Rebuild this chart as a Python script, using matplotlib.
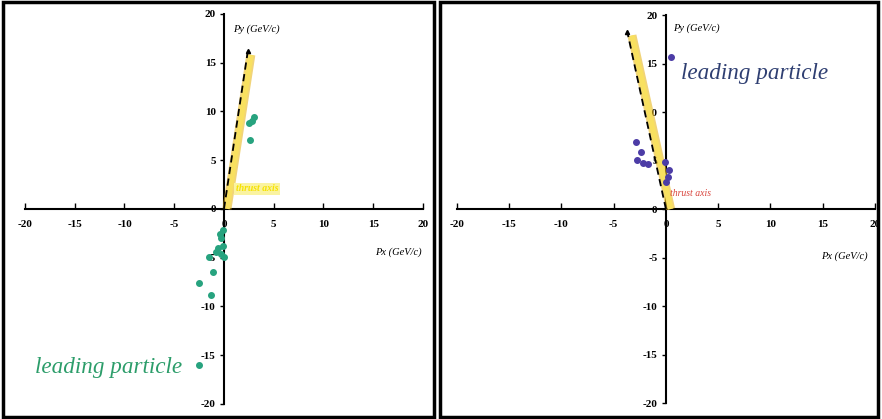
import matplotlib as mpl
mpl.use("Agg")
import matplotlib.pyplot as plt
from matplotlib.patches import Rectangle

# thrust axis end points (GeV/c)
thrust_left = [2.4, 16.2]
thrust_right = [-3.7, 18.3]

# particle momenta, left event
px_left = [2.6, 2.5, 3.0, 2.8, -0.1, -0.3, -0.1, -0.6, -0.3, 0.0, -0.8,
           -0.4, -1.5, -1.1, -2.5, -1.3, -2.5]
py_left = [7.1, 8.8, 9.4, 9.0, -2.2, -3.0, -3.8, -4.0, -4.6, -4.9, -4.4,
           -2.6, -4.9, -6.5, -7.6, -8.8, -16.0]

# particle momenta, right event
px_right = [-2.9, -2.4, -2.8, -2.2, -1.7, -0.1, 0.3, 0.2, 0.0, 0.5]
py_right = [6.9, 5.9, 5.1, 4.7, 4.6, 4.9, 4.0, 3.3, 2.8, 15.7]

ticks = [-20, -15, -10, -5, 0, 5, 10, 15, 20]

serif = 'Liberation Serif'

fig = plt.figure(figsize=(8.82, 4.19), dpi=100)

# panel frames
fig.patches.append(Rectangle((0.003, 0.005), 0.489, 0.99, transform=fig.transFigure,
                             fill=False, lw=2.5, ec='black'))
fig.patches.append(Rectangle((0.499, 0.005), 0.497, 0.99, transform=fig.transFigure,
                             fill=False, lw=2.5, ec='black'))

ax1 = fig.add_axes([0.0283, 0.036, 0.4513, 0.931])
ax2 = fig.add_axes([0.518, 0.038, 0.474, 0.926])


def setup(ax):
    ax.set_xlim(-20, 20)
    ax.set_ylim(-20, 20)
    for s in ['top', 'right']:
        ax.spines[s].set_visible(False)
    ax.spines['left'].set_position('zero')
    ax.spines['bottom'].set_position('zero')
    ax.spines['left'].set_linewidth(1.5)
    ax.spines['bottom'].set_linewidth(1.5)
    ax.set_xticks(ticks)
    ax.set_yticks(ticks)
    ax.set_xticklabels([str(t) for t in ticks], fontsize=8, family=serif,
                       fontweight='bold')
    ax.set_yticklabels([str(t) for t in ticks], fontsize=8, family=serif,
                       fontweight='bold')
    ax.tick_params(axis='x', direction='in', length=4, width=1, pad=8)
    ax.tick_params(axis='y', direction='out', length=3, width=1, pad=3)
    ax.patch.set_alpha(0)


setup(ax1)
setup(ax2)


def thrust(ax, tip, shift):
    # pale yellow band beside a dashed black axis
    ax.plot([shift, tip[0] + shift], [0, tip[1] - 0.4], color='#e8b820',
            lw=6.5, alpha=0.6, solid_capstyle='butt', zorder=3)
    ax.plot([shift, tip[0] + shift], [0, tip[1] - 0.4], color='#f8e060',
            lw=4, solid_capstyle='butt', zorder=3)
    ax.plot([0, tip[0]], [0, tip[1]], color='black', lw=1.3,
            ls=(0, (4, 2.5)), zorder=4)
    ax.plot(tip[0], tip[1], marker='^', color='black', ms=3, zorder=4)


# left event
thrust(ax1, thrust_left, 0.3)
ax1.scatter(px_left, py_left, s=16, color='#27a37f', zorder=5)
ax1.text(1.2, 1.8, 'thrust axis', color='#f6e200', fontsize=7, family=serif,
         style='italic', fontweight='bold',
         bbox=dict(boxstyle='square,pad=0.15', fc='#faf3a0', ec='none'))
ax1.text(-19, -16.3, 'leading particle', color='#2c9d6a', fontsize=16.7,
         family=serif, style='italic', va='center')
ax1.text(0.9, 18.4, 'Py (GeV/c)', fontsize=7.5, family=serif, style='italic',
         va='center')
ax1.text(15.2, -4.4, 'Px (GeV/c)', fontsize=7.5, family=serif, style='italic',
         va='center')

# right event
thrust(ax2, thrust_right, 0.45)
ax2.scatter(px_right, py_right, s=16, color='#4c3ca6', zorder=5)
ax2.text(0.4, 1.6, 'thrust axis', color='#d9453d', fontsize=7, family=serif,
         style='italic', va='center')
ax2.text(1.4, 14, 'leading particle', color='#2f3f72', fontsize=16.7,
         family=serif, style='italic', va='center')
ax2.text(0.7, 18.6, 'Py (GeV/c)', fontsize=7.5, family=serif, style='italic',
         va='center')
ax2.text(14.8, -4.9, 'Px (GeV/c)', fontsize=7.5, family=serif, style='italic',
         va='center')

plt.savefig('out.png', dpi=100)
